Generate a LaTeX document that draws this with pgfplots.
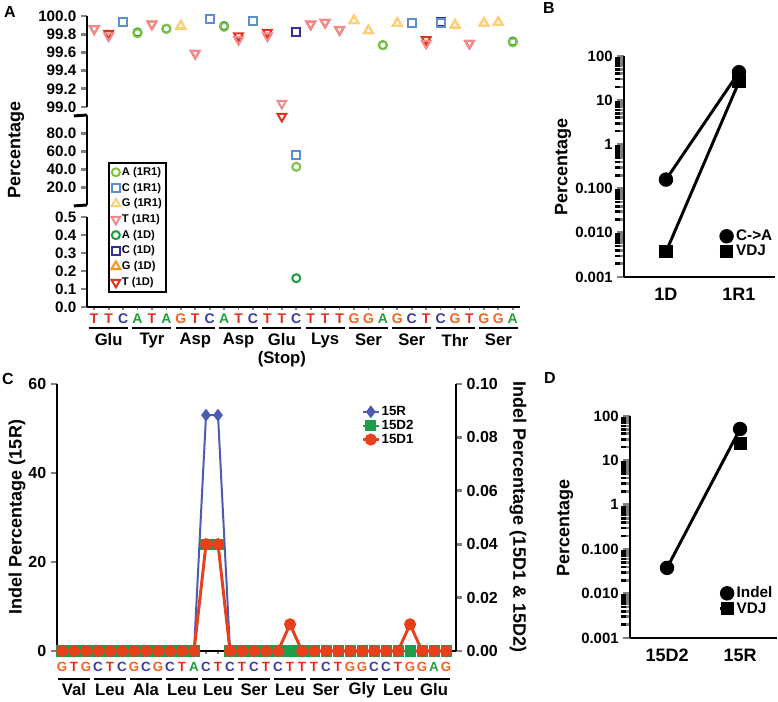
\documentclass[border=0pt]{standalone}
\usepackage{pgfplots}
\pgfplotsset{compat=1.18}
\usepackage{fontspec}
\setmainfont{Liberation Sans}
\definecolor{AR}{HTML}{7DC242}
\definecolor{CR}{HTML}{5B8FD0}
\definecolor{GR}{HTML}{FFD27A}
\definecolor{TR}{HTML}{F48A8A}
\definecolor{AD}{HTML}{1E9E3A}
\definecolor{CD}{HTML}{2E3192}
\definecolor{GD}{HTML}{F7941D}
\definecolor{TD}{HTML}{E2321E}
\definecolor{nT}{HTML}{E0301E}
\definecolor{nC}{HTML}{3A3C9A}
\definecolor{nA}{HTML}{1FA03C}
\definecolor{nG}{HTML}{F26522}
\definecolor{sR}{HTML}{4E5BB3}
\definecolor{sDtwo}{HTML}{1E9E4A}
\definecolor{sDone}{HTML}{E8401C}
\newcommand{\fs}[1]{\fontsize{#1}{#1}\selectfont}
% panel A helpers
\newcommand{\LA}[3]{\node[text=#2,font=\bfseries\fs{10.5},yshift=-8.6pt] at (axis cs:#1,0) {#3};}
\newcommand{\BA}[2]{\draw[line width=2.2pt] ([yshift=-15.75pt]axis cs:#1,0) -- ([yshift=-15.75pt]axis cs:#2,0);}
\newcommand{\AmA}[2]{\node[font=\bfseries\fs{12.5},yshift=-24.75pt] at (axis cs:#1,0) {#2};}
% panel C helpers
\newcommand{\LC}[3]{\node[text=#2,font=\bfseries\fs{10},yshift=-12pt] at (axis cs:#1,0) {#3};}
\newcommand{\BC}[2]{\draw[line width=2.2pt] ([yshift=-21pt]axis cs:#1,0) -- ([yshift=-21pt]axis cs:#2,0);}
\newcommand{\AmC}[2]{\node[font=\bfseries\fs{12.5},yshift=-29.25pt] at (axis cs:#1,0) {#2};}
\pgfplotsset{
  mk/.style={only marks, line width=1.5pt},
  sAR/.style={mk, color=AR, mark=o, mark size=3pt},
  sCR/.style={mk, color=CR, mark=square, mark size=3pt},
  sGR/.style={mk, color=GR, mark=triangle, mark size=3.8pt},
  sTR/.style={mk, color=TR, mark=triangle, mark size=3.8pt, mark options={rotate=180}},
  sAD/.style={mk, color=AD, mark=o, mark size=3pt},
  sCD/.style={mk, color=CD, mark=square, mark size=3pt},
  sGD/.style={mk, color=GD, mark=triangle, mark size=3.8pt},
  sTD/.style={mk, color=TD, mark=triangle, mark size=3.8pt, mark options={rotate=180}},
  Aseg/.style={anchor=south west, scale only axis, width=324.75pt,
    xmin=0.5, xmax=30.5, clip=false, axis y line*=left,
    axis line style={line width=2.2pt}, ytick style={line width=2pt},
    major tick length=4.5pt, tick align=outside,
    yticklabel style={font=\bfseries\fs{11.4}}},
  logax/.style={anchor=south west, scale only axis, clip=false,
    axis x line*=bottom, axis y line*=left,
    axis line style={line width=2.2pt}, tick align=outside,
    major tick length=5pt,
    ytick style={line width=2pt},
    xtick style={draw=none},
    extra y tick style={major tick length=3.2pt,
      tick style={line width=1.3pt, black, xshift=-3.2pt}},
    extra y tick labels={},
    yticklabel style={font=\bfseries\fs{11.2}},
    xticklabel style={font=\bfseries\fs{13.5}},
    legend style={draw=none, fill=none, font=\bfseries\fs{11.5},
      nodes={inner sep=1pt}, legend cell align=left}},
  Cax/.style={anchor=south west, scale only axis, at={(42.75pt,-488.25pt)},
    width=299.25pt, height=200.25pt, xmin=0.583, xmax=33.83, clip=false,
    axis line style={line width=2.2pt}, tick align=outside,
    major tick length=4.5pt, ytick style={line width=2pt},
    yticklabel style={font=\bfseries\fs{12}}},
}
\begin{document}
\begin{tikzpicture}
\path[use as bounding box] (0,0) rectangle (583.5pt,-525.75pt);
% ---------------- Panel A ----------------
\begin{axis}[Aseg, at={(65.25pt,-80.25pt)}, height=68.25pt,
  ymin=99, ymax=100, axis x line=none,
  ytick={99,99.2,99.4,99.6,99.8,100},
  yticklabels={99.0,99.2,99.4,99.6,99.8,100.0}]
\addplot[sTD] coordinates {(1,99.86)(2,99.81)(5,99.91)(8,99.59)(11,99.78)(13,99.82)(16,99.91)(17,99.93)(18,99.85)(24,99.74)(27,99.70)};
\addplot[sCD] coordinates {(3,99.93)(9,99.97)(12,99.95)(15,99.82)(23,99.92)(25,99.935)};
\addplot[sAD] coordinates {(4,99.82)(6,99.86)(10,99.89)(21,99.68)(30,99.72)};
\addplot[sGD] coordinates {(7,99.89)(19,99.95)(20,99.84)(22,99.92)(26,99.90)(28,99.92)(29,99.93)};
\addplot[sTR] coordinates {(1,99.86)(2,99.78)(5,99.91)(8,99.59)(11,99.74)(13,99.78)(14,99.04)(16,99.91)(17,99.93)(18,99.85)(24,99.70)(27,99.70)};
\addplot[sCR] coordinates {(3,99.93)(9,99.97)(12,99.95)(23,99.92)(25,99.92)};
\addplot[sAR] coordinates {(4,99.81)(6,99.86)(10,99.88)(21,99.68)(30,99.71)};
\addplot[sGR] coordinates {(7,99.89)(19,99.95)(20,99.84)(22,99.92)(26,99.90)(28,99.92)(29,99.93)};
\end{axis}
\begin{axis}[Aseg, at={(65.25pt,-153.75pt)}, height=67.5pt,
  ymin=1, ymax=100, axis x line=none,
  ytick={20,40,60,80}, yticklabels={20.0,40.0,60.0,80.0}]
\draw[line width=2.2pt] (rel axis cs:0,1) -- ++(-4.5pt,0);
\draw[line width=2.2pt] (rel axis cs:0,0) -- ++(-4.5pt,0);
\addplot[sTD] coordinates {(14,98.5)};
\addplot[sCR] coordinates {(15,56)};
\addplot[sAR] coordinates {(15,43)};
\end{axis}
\begin{axis}[Aseg, at={(65.25pt,-230.25pt)}, height=67.5pt,
  ymin=0, ymax=0.5, axis x line*=bottom,
  ytick={0,0.1,0.2,0.3,0.4,0.5}, yticklabels={0.0,0.1,0.2,0.3,0.4,0.5},
  xtick={1,...,30}, xticklabels={},
  xtick style={line width=1.3pt, /pgfplots/major tick length=2.5pt},
  legend style={at={(0.0485,1.611)}, anchor=north west, draw=black,
    line width=1.2pt, font=\bfseries\fs{8.4}, inner sep=2pt,
    row sep=1.6pt, nodes={inner sep=1.3pt}, legend cell align=left},
  legend image code/.code={\draw[mark repeat=2,mark phase=2,#1] plot coordinates {(0pt,0pt)(5pt,0pt)(10pt,0pt)};}]
\addlegendimage{sAR}\addlegendentry{A (1R1)}
\addlegendimage{sCR}\addlegendentry{C (1R1)}
\addlegendimage{sGR}\addlegendentry{G (1R1)}
\addlegendimage{sTR}\addlegendentry{T (1R1)}
\addlegendimage{sAD}\addlegendentry{A (1D)}
\addlegendimage{sCD}\addlegendentry{C (1D)}
\addlegendimage{sGD}\addlegendentry{G (1D)}
\addlegendimage{sTD}\addlegendentry{T (1D)}
\addplot[sAD, forget plot] coordinates {(15,0.16)};
% nucleotides TTC ATA GTC ATC TTC TTT GGA GCT CGT GGA
\LA{1}{nT}{T}\LA{2}{nT}{T}\LA{3}{nC}{C}
\LA{4}{nA}{A}\LA{5}{nT}{T}\LA{6}{nA}{A}
\LA{7}{nG}{G}\LA{8}{nT}{T}\LA{9}{nC}{C}
\LA{10}{nA}{A}\LA{11}{nT}{T}\LA{12}{nC}{C}
\LA{13}{nT}{T}\LA{14}{nT}{T}\LA{15}{nC}{C}
\LA{16}{nT}{T}\LA{17}{nT}{T}\LA{18}{nT}{T}
\LA{19}{nG}{G}\LA{20}{nG}{G}\LA{21}{nA}{A}
\LA{22}{nG}{G}\LA{23}{nC}{C}\LA{24}{nT}{T}
\LA{25}{nC}{C}\LA{26}{nG}{G}\LA{27}{nT}{T}
\LA{28}{nG}{G}\LA{29}{nG}{G}\LA{30}{nA}{A}
\BA{0.65}{3.35}\BA{3.65}{6.35}\BA{6.65}{9.35}\BA{9.65}{12.35}\BA{12.65}{15.35}
\BA{15.65}{18.35}\BA{18.65}{21.35}\BA{21.65}{24.35}\BA{24.65}{27.35}\BA{27.65}{30.35}
\AmA{2}{Glu}\AmA{5}{Tyr}\AmA{8}{Asp}\AmA{11}{Asp}\AmA{14}{Glu}
\AmA{17}{Lys}\AmA{20}{Ser}\AmA{23}{Ser}\AmA{26}{Thr}\AmA{29}{Ser}
\node[font=\bfseries\fs{12.5},yshift=-39pt] at (axis cs:14,0) {(Stop)};
\end{axis}
\node[font=\bfseries\fs{12}] at (7.5pt,-9pt) {A};
\node[font=\bfseries\fs{13.5},rotate=90] at (12pt,-112.5pt) {Percentage};
% ---------------- Panel B ----------------
\begin{axis}[logax, ymode=log, ymin=0.001, ymax=100,
  ytick={0.001,0.01,0.1,1,10,100},
  yticklabels={0.001,0.010,0.100,1,10,100},
  extra y ticks={0.002,0.003,0.004,0.005,0.006,0.007,0.008,0.009,0.02,0.03,0.04,0.05,0.06,0.07,0.08,0.09,0.2,0.3,0.4,0.5,0.6,0.7,0.8,0.9,2,3,4,5,6,7,8,9,20,30,40,50,60,70,80,90},
  at={(468pt,-207.75pt)}, width=113.6pt, height=165.75pt,
  xmin=0.425, xmax=2.5, xtick={1,2}, xticklabels={1D,1R1},
  legend style={at={(1.016,0.15)}, anchor=east},
  legend image code/.code={\draw[mark repeat=2,mark phase=2,#1] plot coordinates {(0pt,0pt)(5pt,0pt)(10pt,0pt)};}]
\addplot[black, line width=2.2pt, mark=*, mark size=4.3pt] coordinates {(1,0.16) (2,43)};
\addplot[black, line width=2.2pt, mark=square*, mark size=3.8pt] coordinates {(1,0.0037) (2,26)};
\legend{C->A, VDJ}
\end{axis}
\node[font=\bfseries\fs{12}] at (411.75pt,-6pt) {B};
\node[font=\bfseries\fs{13.5},rotate=90] at (422.25pt,-125.25pt) {Percentage};
% ---------------- Panel C ----------------
\begin{axis}[Cax, ymin=0, ymax=60, ytick={0,20,40,60}, yticklabels={0,20,40,60},
  axis y line*=left, axis x line*=bottom,
  xtick={1,...,33}, xticklabels={},
  xtick style={line width=1.3pt, /pgfplots/major tick length=2.5pt}]
\addplot[sR, line width=1.5pt, mark=diamond*, mark size=3.6pt] coordinates {
(1,0)(2,0)(3,0)(4,0)(5,0)(6,0)(7,0)(8,0)(9,0)(10,0)(11,0)(12,0)(13,53)(14,53)(15,0)(16,0)(17,0)(18,0)(19,0)(20,0)(21,0)(22,0)(23,0)(24,0)(25,0)(26,0)(27,0)(28,0)(29,0)(30,0)(31,0)(32,0)(33,0)};
% nucleotides GTG CTC GCG CTA CTC TCT CTT TCT GGC CTG GAG
\LC{1}{nG}{G}\LC{2}{nT}{T}\LC{3}{nG}{G}
\LC{4}{nC}{C}\LC{5}{nT}{T}\LC{6}{nC}{C}
\LC{7}{nG}{G}\LC{8}{nC}{C}\LC{9}{nG}{G}
\LC{10}{nC}{C}\LC{11}{nT}{T}\LC{12}{nA}{A}
\LC{13}{nC}{C}\LC{14}{nT}{T}\LC{15}{nC}{C}
\LC{16}{nT}{T}\LC{17}{nC}{C}\LC{18}{nT}{T}
\LC{19}{nC}{C}\LC{20}{nT}{T}\LC{21}{nT}{T}
\LC{22}{nT}{T}\LC{23}{nC}{C}\LC{24}{nT}{T}
\LC{25}{nG}{G}\LC{26}{nG}{G}\LC{27}{nC}{C}
\LC{28}{nC}{C}\LC{29}{nT}{T}\LC{30}{nG}{G}
\LC{31}{nG}{G}\LC{32}{nA}{A}\LC{33}{nG}{G}
\BC{0.65}{3.35}\BC{3.65}{6.35}\BC{6.65}{9.35}\BC{9.65}{12.35}\BC{12.65}{15.35}
\BC{15.65}{18.35}\BC{18.65}{21.35}\BC{21.65}{24.35}\BC{24.65}{27.35}\BC{27.65}{30.35}\BC{30.65}{33.35}
\AmC{2}{Val}\AmC{5}{Leu}\AmC{8}{Ala}\AmC{11}{Leu}\AmC{14}{Leu}\AmC{17}{Ser}
\AmC{20}{Leu}\AmC{23}{Ser}\AmC{26}{Gly}\AmC{29}{Leu}\AmC{32}{Glu}
\end{axis}
\begin{axis}[Cax, ymin=0, ymax=0.1, ytick={0,0.02,0.04,0.06,0.08,0.1},
  yticklabels={0.00,0.02,0.04,0.06,0.08,0.10},
  axis y line*=right, axis x line=none,
  legend style={at={(0.752,0.933)}, anchor=north west, draw=none, fill=none,
    font=\bfseries\fs{10}, nodes={inner sep=1pt}, legend cell align=left},
  legend image code/.code={\draw[mark repeat=2,mark phase=2,#1] plot coordinates {(0pt,0pt)(6pt,0pt)(12pt,0pt)};}]
\addlegendimage{sR, line width=1.5pt, mark=diamond*, mark size=3.6pt}\addlegendentry{15R}
\addplot[sDtwo, line width=1.5pt, mark=square*, mark size=3.4pt] coordinates {
(1,0)(2,0)(3,0)(4,0)(5,0)(6,0)(7,0)(8,0)(9,0)(10,0)(11,0)(12,0)(13,0.04)(14,0.04)(15,0)(16,0)(17,0)(18,0)(19,0)(20,0)(21,0)(22,0)(23,0)(24,0)(25,0)(26,0)(27,0)(28,0)(29,0)(30,0)(31,0)(32,0)(33,0)};
\addlegendentry{15D2}
\addplot[sDone, line width=2.2pt, mark=*, mark size=3.4pt] coordinates {
(1,0)(2,0)(3,0)(4,0)(5,0)(6,0)(7,0)(8,0)(9,0)(10,0)(11,0)(12,0)(13,0.04)(14,0.04)(15,0)(16,0)(17,0)(18,0)(19,0)(20,0.01)(21,0)(22,0)(23,0)(24,0)(25,0)(26,0)(27,0)(28,0)(29,0)(30,0.01)(31,0)(32,0)(33,0)};
\addlegendentry{15D1}
\end{axis}
\node[font=\bfseries\fs{12}] at (6pt,-284.25pt) {C};
\node[font=\bfseries\fs{13.5},rotate=90] at (12.75pt,-387.75pt) {Indel Percentage (15R)};
\node[font=\bfseries\fs{13.5},rotate=-90] at (388.5pt,-387.75pt) {Indel Percentage (15D1 \& 15D2)};
% ---------------- Panel D ----------------
\begin{axis}[logax, ymode=log, ymin=0.001, ymax=100,
  ytick={0.001,0.01,0.1,1,10,100},
  yticklabels={0.001,0.010,0.100,1,10,100},
  extra y ticks={0.002,0.003,0.004,0.005,0.006,0.007,0.008,0.009,0.02,0.03,0.04,0.05,0.06,0.07,0.08,0.09,0.2,0.3,0.4,0.5,0.6,0.7,0.8,0.9,2,3,4,5,6,7,8,9,20,30,40,50,60,70,80,90},
  at={(472.5pt,-478.5pt)}, width=109.9pt, height=166.5pt,
  xmin=0.493, xmax=2.5, xtick={1,2}, xticklabels={15D2,15R},
  legend style={at={(1.01,0.167)}, anchor=east},
  legend image code/.code={\draw[mark repeat=2,mark phase=2,#1] plot coordinates {(0pt,0pt)(5pt,0pt)(10pt,0pt)};}]
\addplot[black, line width=2.2pt, mark=*, mark size=4.3pt] coordinates {(1,0.038) (2,51)};
\addplot[black, line width=2.2pt, mark=square*, mark size=3.8pt] coordinates {(2,24)};
\legend{Indel, VDJ}
\end{axis}
\node[font=\bfseries\fs{12}] at (412.5pt,-283.5pt) {D};
\node[font=\bfseries\fs{13.5},rotate=90] at (423.75pt,-396pt) {Percentage};
\end{tikzpicture}
\end{document}
